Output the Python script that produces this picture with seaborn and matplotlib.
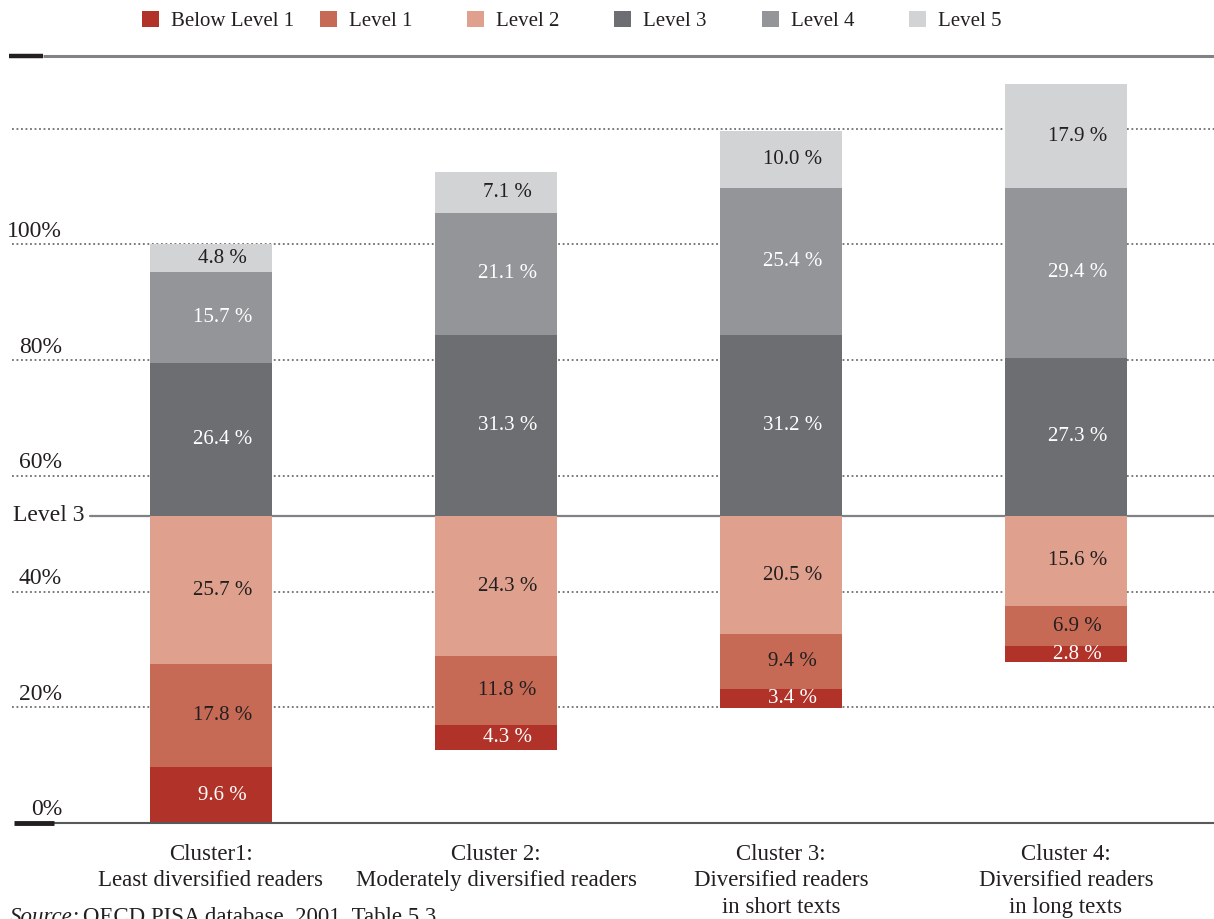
import numpy as np
import matplotlib.pyplot as plt
from matplotlib.transforms import blended_transform_factory
import seaborn as sns

clusters = [
    "Cluster1:\nLeast diversified readers",
    "Cluster 2:\nModerately diversified readers",
    "Cluster 3:\nDiversified readers\nin short texts",
    "Cluster 4:\nDiversified readers\nin long texts",
]
levels = ["Below Level 1", "Level 1", "Level 2", "Level 3", "Level 4", "Level 5"]
below_level1 = [9.6, 4.3, 3.4, 2.8]
level1 = [17.8, 11.8, 9.4, 6.9]
level2 = [25.7, 24.3, 20.5, 15.6]
level3 = [26.4, 31.3, 31.2, 27.3]
level4 = [15.7, 21.1, 25.4, 29.4]
level5 = [4.8, 7.1, 10.0, 17.9]
grid_values = [20, 40, 60, 80, 100, 120]
tick_values = [0, 20, 40, 60, 80, 100]

colors = ["#b03228", "#c66a55", "#dfa18e", "#6d6e71", "#939598", "#d1d3d4"]
dark = "#231f20"
text_colors = ["white", dark, dark, "white", "white", dark]

sns.set_style("white")
plt.rcParams["font.family"] = ["Liberation Serif", "DejaVu Serif"]

# stack everything so the Level 3 boundary lines up across clusters
stack = np.array([below_level1, level1, level2, level3, level4, level5])
anchor = stack[:3, 0].sum()
base = anchor - stack[:3].sum(axis=0)
bottoms = base + np.vstack([np.zeros(4), np.cumsum(stack, axis=0)[:-1]])

W, H = 1214, 919
fig = plt.figure(figsize=(W / 100, H / 100), dpi=100)
ax = fig.add_axes([0, (H - 823) / H, 1, (823 - 56) / H])

for i, name in enumerate(levels):
    sns.barplot(x=clusters, y=stack[i], order=clusters, bottom=bottoms[i],
                color=colors[i], saturation=1, width=0.428, errorbar=None,
                linewidth=0, edgecolor="none", label=name, ax=ax, zorder=3)

if ax.get_legend() is not None:
    ax.get_legend().remove()

ymax = (823 - 56) / 5.785
ax.set_xlim(-211 / 285, (W - 211) / 285)
ax.set_ylim(0, ymax)

# value labels
for i in range(len(levels)):
    for j in range(len(clusters)):
        ax.text(j + 0.04, bottoms[i][j] + stack[i][j] / 2, f"{stack[i][j]:.1f} %",
                ha="center", va="center", color=text_colors[i], fontsize=15, zorder=4)

# dotted grid lines and y labels
trans = blended_transform_factory(ax.transAxes, ax.transData)
for v in grid_values:
    ax.axhline(v, xmin=12 / W, xmax=1, color="#6d6e71", lw=1.3,
               ls=(0, (1, 1.5)), zorder=1)
for v in tick_values:
    ax.text(62 / W, v + 1.3, f"{v}%", transform=trans, ha="right",
            va="baseline", fontsize=17, color=dark)

# Level 3 reference line
ax.axhline(anchor, xmin=90 / W, xmax=1, color="#808285", lw=1.6, zorder=1)
ax.text(13 / W, anchor, "Level 3", transform=trans, ha="left", va="center",
        fontsize=17, color=dark)

# top and bottom rules
ax.axhline(ymax, xmin=43 / W, xmax=1, color="#808285", lw=2.2, clip_on=False,
           zorder=5, solid_capstyle="butt")
ax.axhline(ymax, xmin=9 / W, xmax=43 / W, color=dark, lw=3.2, clip_on=False,
           zorder=5, solid_capstyle="butt")
ax.axhline(0, xmin=54 / W, xmax=1, color="#58595b", lw=1.5, clip_on=False,
           zorder=5, solid_capstyle="butt")
ax.axhline(0, xmin=14 / W, xmax=54 / W, color=dark, lw=3.5, clip_on=False,
           zorder=5, solid_capstyle="butt")

ax.set_xlabel("")
ax.set_ylabel("")
ax.set_yticks([])
ax.set_xticks(range(len(clusters)))
ax.set_xticklabels(clusters, fontsize=16.5, color=dark, linespacing=1.35)
ax.tick_params(axis="x", length=0, pad=15)
sns.despine(ax=ax, left=True, bottom=True)

# legend: first entry sits closer to the rest than the others do
handles, labels = ax.get_legend_handles_labels()
leg_kw = dict(frameon=False, fontsize=15, handlelength=0.82, handleheight=0.77,
              handletextpad=0.58, columnspacing=2.62, borderpad=0, borderaxespad=0,
              loc="center left", labelcolor=dark)
fig.legend(handles[:1], labels[:1], bbox_to_anchor=(142 / W, 1 - 21 / H), ncol=1, **leg_kw)
fig.legend(handles[1:], labels[1:], bbox_to_anchor=(320 / W, 1 - 21 / H), ncol=5, **leg_kw)

# source note, cut at the bottom edge as in the original
fig.text(10 / W, (H - 907) / H, "Source:", style="italic", fontsize=16.5,
         va="top", color=dark)
fig.text(83 / W, (H - 907) / H, "OECD PISA database, 2001. Table 5.3.", fontsize=16.5,
         va="top", color=dark)

fig.savefig("out.png", dpi=100)
